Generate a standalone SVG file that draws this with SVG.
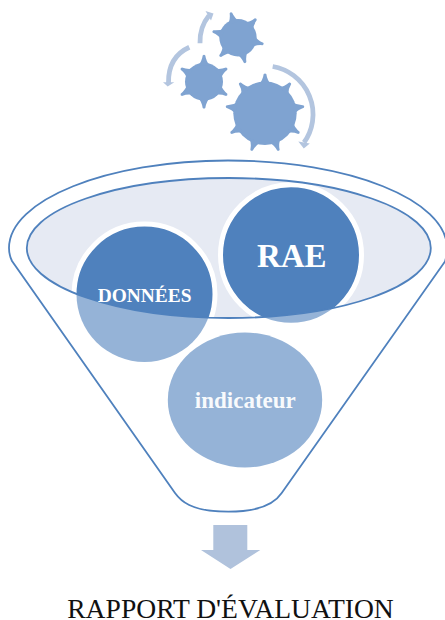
<svg xmlns="http://www.w3.org/2000/svg" xmlns:xlink="http://www.w3.org/1999/xlink" width="445" height="620" viewBox="0 0 445 620">
<style>
.line{fill:none;stroke:#4f81bd;stroke-width:1.8}
.gear{fill:#7fa3d1}
.cycle{fill:none;stroke:#b3c5df;stroke-width:4.8}
.head{fill:#b3c5df}
.light{fill:#95b3d7}
.dark{fill:#4f81bd;stroke:#fff;stroke-width:5}
text{font-family:"Liberation Serif","Times New Roman",serif;text-anchor:middle}
.lbl{fill:#fff;font-weight:bold}
</style>
<defs>
<path id="tooth" d="M-6,2 Q-2.2,-2 -1.3,-8.2 Q0,-9.6 1.3,-8.2 Q2.2,-2 6,2 Z"/>
<clipPath id="mouth"><ellipse cx="228.8" cy="248" rx="202" ry="70"/></clipPath>
</defs>
<g id="funnel">
<path class="line" d="M175,493 L12,261 Q9,255 9,248 C9,200 107,160.5 228,160.5 C349,160.5 447,200 447,248 Q447,255 445,261.5 L281.7,493 C277,500 265,511.7 228.3,511.7 C190,511.7 180,500 175,493 Z"/>
</g>
<g id="mouth-fill"><ellipse cx="228.8" cy="248" rx="202" ry="70" fill="#e6eaf3"/></g>
<g id="node-donnees">
<ellipse class="light" cx="144.5" cy="294.3" rx="68" ry="67.7"/>
<g clip-path="url(#mouth)"><ellipse class="dark" cx="144.5" cy="294.3" rx="70.5" ry="70.2"/></g>
</g>
<g id="node-rae">
<ellipse class="light" cx="291" cy="255" rx="68" ry="67.8"/>
<g clip-path="url(#mouth)"><ellipse class="dark" cx="291" cy="255" rx="70.5" ry="70.3"/></g>
</g>
<g id="mouth-line"><ellipse class="line" cx="228.8" cy="248" rx="202" ry="70"/></g>
<text class="lbl" x="144.6" y="301.7" font-size="19.4">DONNÉES</text>
<text class="lbl" x="291.8" y="266.7" font-size="33">RAE</text>
<g id="node-indicateur">
<ellipse class="light" cx="245" cy="400" rx="77.2" ry="67.5"/>
<text class="lbl" x="245.3" y="408" font-size="23" fill-opacity=".95">indicateur</text>
</g>
<g id="gear-large" class="gear">
<circle cx="265" cy="113.3" r="31.7"/>
<use xlink:href="#tooth" href="#tooth" transform="translate(265,113.3) rotate(0) translate(0,-31)"/>
<use xlink:href="#tooth" href="#tooth" transform="translate(265,113.3) rotate(40) translate(0,-31)"/>
<use xlink:href="#tooth" href="#tooth" transform="translate(265,113.3) rotate(80) translate(0,-31)"/>
<use xlink:href="#tooth" href="#tooth" transform="translate(265,113.3) rotate(120) translate(0,-31)"/>
<use xlink:href="#tooth" href="#tooth" transform="translate(265,113.3) rotate(160) translate(0,-31)"/>
<use xlink:href="#tooth" href="#tooth" transform="translate(265,113.3) rotate(200) translate(0,-31)"/>
<use xlink:href="#tooth" href="#tooth" transform="translate(265,113.3) rotate(240) translate(0,-31)"/>
<use xlink:href="#tooth" href="#tooth" transform="translate(265,113.3) rotate(280) translate(0,-31)"/>
<use xlink:href="#tooth" href="#tooth" transform="translate(265,113.3) rotate(320) translate(0,-31)"/>
</g>
<g id="gear-top" class="gear">
<circle cx="238" cy="37.7" r="18.7"/>
<use xlink:href="#tooth" href="#tooth" transform="translate(238,37.7) rotate(-16) translate(0,-17.5)"/>
<use xlink:href="#tooth" href="#tooth" transform="translate(238,37.7) rotate(44) translate(0,-17.5)"/>
<use xlink:href="#tooth" href="#tooth" transform="translate(238,37.7) rotate(104) translate(0,-17.5)"/>
<use xlink:href="#tooth" href="#tooth" transform="translate(238,37.7) rotate(164) translate(0,-17.5)"/>
<use xlink:href="#tooth" href="#tooth" transform="translate(238,37.7) rotate(224) translate(0,-17.5)"/>
<use xlink:href="#tooth" href="#tooth" transform="translate(238,37.7) rotate(284) translate(0,-17.5)"/>
</g>
<g id="gear-left" class="gear">
<circle cx="204" cy="81.7" r="19"/>
<use xlink:href="#tooth" href="#tooth" transform="translate(204,81.7) rotate(0) translate(0,-18)"/>
<use xlink:href="#tooth" href="#tooth" transform="translate(204,81.7) rotate(60) translate(0,-18)"/>
<use xlink:href="#tooth" href="#tooth" transform="translate(204,81.7) rotate(120) translate(0,-18)"/>
<use xlink:href="#tooth" href="#tooth" transform="translate(204,81.7) rotate(180) translate(0,-18)"/>
<use xlink:href="#tooth" href="#tooth" transform="translate(204,81.7) rotate(240) translate(0,-18)"/>
<use xlink:href="#tooth" href="#tooth" transform="translate(204,81.7) rotate(300) translate(0,-18)"/>
</g>
<g id="connectors">
<path class="cycle" d="M272.7,66.5 A48.5,48.5 0 0 1 304,142.5"/>
<polygon class="head" points="298.3,141.5 309.8,143.5 303.8,148.5"/>
<path class="cycle" d="M189.3,47.3 Q168,57 168.5,83"/>
<polygon class="head" points="163,82.3 174.3,82.3 167.7,86.5"/>
<path class="cycle" d="M200,43.3 Q199.5,27 209,15.5"/>
<polygon class="head" points="205.5,11 213.5,13.5 211,20.5"/>
<polygon id="down-arrow" fill="#b0c2dc" points="213.3,525 247.3,525 247.3,550 260.3,550 230.5,569 201,550 213.3,550"/>
</g>
<text x="230.5" y="618" font-size="27.6" fill="#111">RAPPORT D'ÉVALUATION</text>
</svg>
